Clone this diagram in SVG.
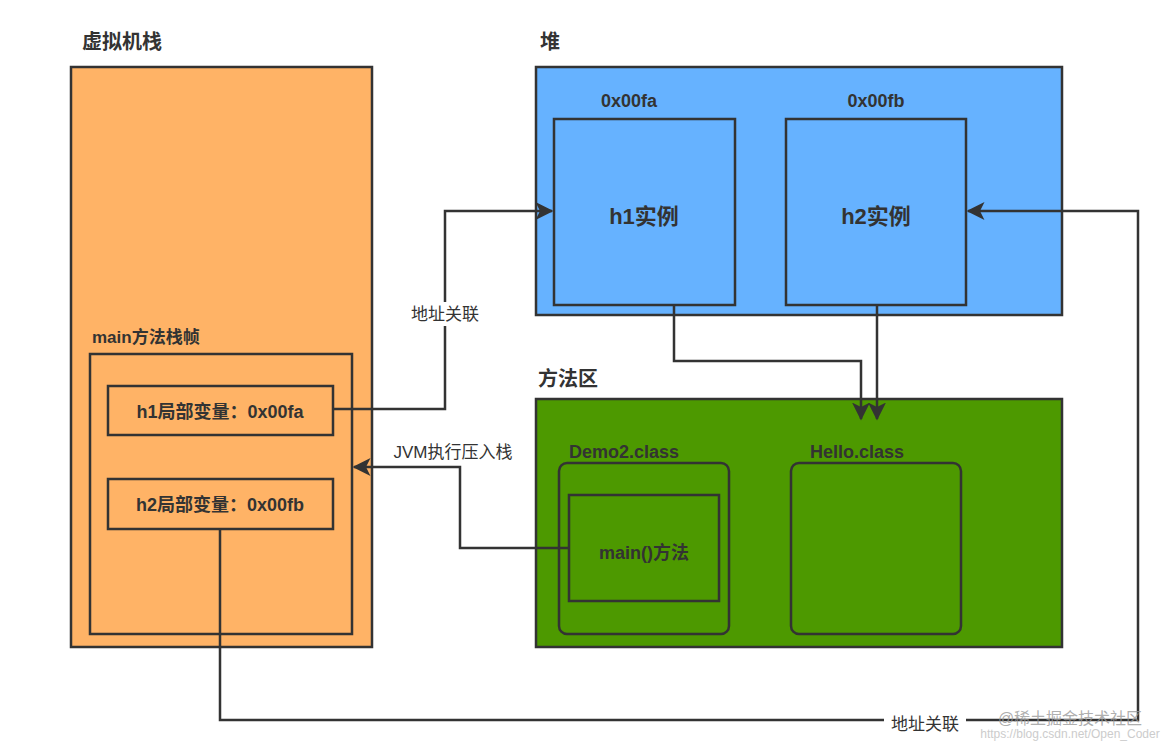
<svg xmlns="http://www.w3.org/2000/svg" width="1172" height="750" viewBox="0 0 1172 750">
<style>
.b{stroke:#333;stroke-width:2.5}
.t{font-family:"Liberation Sans","Noto Sans CJK SC",sans-serif;font-weight:bold;fill:#333}
.l{font-family:"Liberation Sans","Noto Sans CJK SC",sans-serif;fill:#333;font-size:17px}
.c{fill:none;stroke:#333;stroke-width:2.5}
</style>
<defs><marker id="a2" viewBox="0 0 12 12" refX="11" refY="6" markerWidth="18" markerHeight="18" markerUnits="userSpaceOnUse" orient="auto"><path d="M0,0 L12,6 L0,12 L3,6 Z" fill="#333"/></marker></defs>
<rect width="1172" height="750" fill="#fff"/>
<g id="stack"><text class="t" x="82" y="49" font-size="20">虚拟机栈</text><rect class="b" x="71" y="67" width="301" height="580" fill="#ffb366"/></g>
<g id="frame"><text class="t" x="92" y="343" font-size="17">main方法栈帧</text><rect class="b" x="90" y="354" width="262" height="280" fill="none"/></g>
<g id="h1var"><rect class="b" x="108" y="386" width="225" height="49" fill="none"/><text class="t" x="220" y="418" font-size="18" text-anchor="middle">h1局部变量：0x00fa</text></g>
<g id="h2var"><rect class="b" x="108" y="479" width="225" height="50" fill="none"/><text class="t" x="220" y="511" font-size="18" text-anchor="middle">h2局部变量：0x00fb</text></g>
<g id="heap"><text class="t" x="540" y="49" font-size="20">堆</text><rect class="b" x="536" y="67" width="526" height="248" fill="#66b2ff"/></g>
<g id="h1"><text class="t" x="629" y="107" font-size="18" text-anchor="middle">0x00fa</text><rect class="b" x="554" y="119" width="181" height="186" fill="none"/><text class="t" x="644" y="224" font-size="22" text-anchor="middle">h1实例</text></g>
<g id="h2"><text class="t" x="876" y="107" font-size="18" text-anchor="middle">0x00fb</text><rect class="b" x="786" y="119" width="180" height="186" fill="none"/><text class="t" x="876" y="224" font-size="22" text-anchor="middle">h2实例</text></g>
<g id="method"><text class="t" x="538" y="386" font-size="20">方法区</text><rect class="b" x="536" y="399" width="526" height="248" fill="#4d9900"/></g>
<g id="demo2"><text class="t" x="569" y="458" font-size="18">Demo2.class</text><rect class="b" x="559" y="463" width="170" height="171" rx="8" fill="none"/></g>
<g id="main"><rect class="b" x="569" y="495" width="150" height="106" fill="none"/><text class="t" x="644" y="559" font-size="18" text-anchor="middle">main()方法</text></g>
<g id="hello"><text class="t" x="810" y="458" font-size="18">Hello.class</text><rect class="b" x="791" y="463" width="170" height="171" rx="8" fill="none"/></g>
<g id="connectors">
<path class="c" d="M333,409 H445 V211 H552" marker-end="url(#a2)"/>
<rect x="403" y="302" width="84" height="24" fill="#fff"/><text class="l" x="445" y="320" text-anchor="middle">地址关联</text>
<path class="c" d="M569,548 H460 V467 H354" marker-end="url(#a2)"/>
<text class="l" x="453" y="458" text-anchor="middle">JVM执行压入栈</text>
<path class="c" d="M220,529 V720 H1138 V211 H968" marker-end="url(#a2)"/>
<rect x="884" y="710" width="82" height="24" fill="#fff"/><text class="l" x="925" y="730" text-anchor="middle">地址关联</text>
<path class="c" d="M674,305 V361 H861 V419" marker-end="url(#a2)"/>
<path class="c" d="M877,305 V419" marker-end="url(#a2)"/>
</g>
<text x="1070" y="724" font-family="'Liberation Sans','Noto Sans CJK SC',sans-serif" font-size="16" fill="#999" fill-opacity="0.8" text-anchor="middle">@稀土掘金技术社区</text>
<text x="1070" y="738" font-family="'Liberation Sans',sans-serif" font-size="12" fill="#ccc" text-anchor="middle">https://blog.csdn.net/Open_Coder</text>
</svg>
